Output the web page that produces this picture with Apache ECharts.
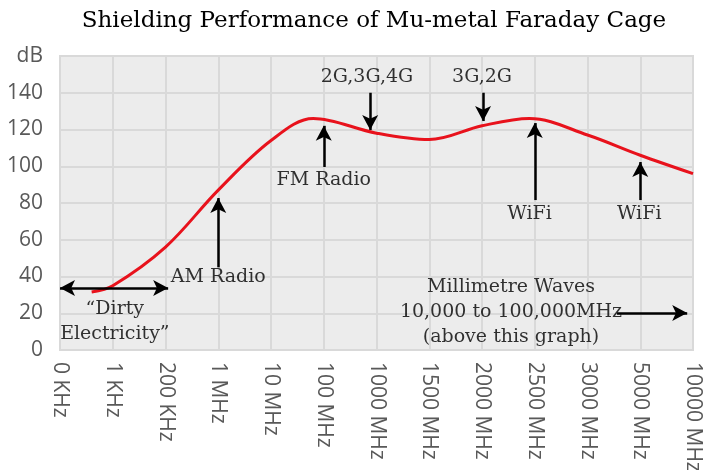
<!DOCTYPE html>
<html>
<head>
<meta charset="utf-8">
<script src="https://cdn.jsdelivr.net/npm/echarts@6/dist/echarts.min.js"></script>
<style>
  html, body { margin: 0; padding: 0; background: #fff; }
  #chart { width: 706px; height: 470px; }
</style>
</head>
<body>
<div id="chart"></div>
<script>
// frequency bands along the x axis
const freqLabels = ['0 KHz', '1 KHz', '200 KHz', '1 MHz', '10 MHz', '100 MHz', '1000 MHz',
  '1500 MHz', '2000 MHz', '2500 MHz', '3000 MHz', '5000 MHz', '10000 MHz'];
const yTicks = [0, 20, 40, 60, 80, 100, 120, 140, 160];

// shielding curve (x = position along the band labels)
const curveX = [0.6, 1, 2, 3, 4, 4.8, 6, 7, 8, 8.9, 10, 11, 12];
const curveDb = [31.6, 35, 56, 87, 114, 126, 118, 114.5, 122, 126, 117, 106, 96];

// arrows: [xFrom, yFrom, xTo, yTo, double-headed]
const arrows = [
  [0, 33.7, 2.05, 33.7, true],
  [3, 45, 3, 82.7, false],
  [5, 99.6, 5, 122, false],
  [5.88, 140, 5.88, 119.7, false],
  [8.02, 140, 8.02, 124.6, false],
  [9, 81.6, 9, 123.5, false],
  [11, 81.6, 11, 102.3, false],
  [10.56, 20.1, 11.89, 20.1, false]
];

// annotation texts: [x, y, text]
const notes = [
  [1.04, 15.5, '\u201cDirty\nElectricity\u201d'],
  [3, 39.7, 'AM Radio'],
  [5, 92.5, 'FM Radio'],
  [5.82, 148.7, '2G,3G,4G'],
  [8, 148.7, '3G,2G'],
  [8.9, 74, 'WiFi'],
  [10.98, 74, 'WiFi'],
  [8.55, 20.7, 'Millimetre Waves\n10,000 to 100,000MHz\n(above this graph)']
];

const serif = 'DejaVu Serif';
const sans = '"Open Sans"';
const chart = echarts.init(document.getElementById('chart'));

chart.setOption({
  animation: false,
  title: {
    text: 'Shielding Performance of Mu-metal Faraday Cage',
    left: 369,
    top: 5,
    textAlign: 'center',
    textStyle: { fontFamily: serif, fontSize: 23, fontWeight: 'normal', color: '#000' }
  },
  grid: {
    left: 60, right: 13, top: 56, bottom: 120,
    outerBoundsMode: 'none',
    show: true, backgroundColor: '#ececec', borderColor: '#d9d9d9', borderWidth: 2
  },
  xAxis: {
    type: 'value',
    min: 0, max: freqLabels.length - 1, interval: 1,
    axisLine: { show: false },
    axisTick: { show: false },
    splitLine: { show: true, lineStyle: { color: '#d9d9d9', width: 2 } },
    axisLabel: {
      rotate: -90, margin: 12,
      padding: [8, 0, 0, 0],
      fontFamily: sans, fontSize: 21, color: '#595959',
      formatter: v => freqLabels[v] || ''
    }
  },
  yAxis: {
    type: 'value',
    min: yTicks[0], max: yTicks[yTicks.length - 1], interval: 20,
    axisLine: { show: false },
    axisTick: { show: false },
    splitLine: { show: true, lineStyle: { color: '#d9d9d9', width: 2 } },
    axisLabel: {
      margin: 17,
      fontFamily: sans, fontSize: 21, color: '#595959',
      formatter: v => (v === 160 ? 'dB' : v)
    }
  },
  series: [
    {
      type: 'line',
      data: curveX.map((x, i) => [x, curveDb[i]]),
      smooth: 0.35,
      symbol: 'none',
      lineStyle: { color: '#e8121c', width: 3 },
      z: 3
    },
    {
      type: 'line',
      data: [],
      markLine: {
        silent: true,
        animation: false,
        label: { show: false },
        lineStyle: { color: '#000', width: 2.5, type: 'solid' },
        symbolSize: [12, 15],
        data: arrows.map(a => [
          { coord: [a[0], a[1]], symbol: a[4] ? 'arrow' : 'none' },
          { coord: [a[2], a[3]], symbol: 'arrow' }
        ])
      },
      z: 4
    },
    {
      type: 'scatter',
      data: notes.map(n => [n[0], n[1], n[2]]),
      symbolSize: 1,
      itemStyle: { color: 'rgba(0,0,0,0)' },
      silent: true,
      label: {
        show: true,
        position: 'inside',
        formatter: p => p.value[2],
        fontFamily: serif, fontSize: 19, color: '#000', lineHeight: 25, align: 'center'
      },
      z: 5
    }
  ]
});
</script>
</body>
</html>
